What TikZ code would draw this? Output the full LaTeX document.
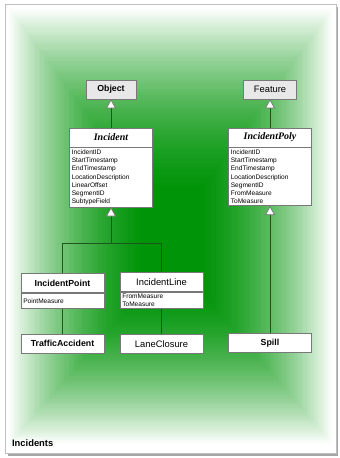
\documentclass[tikz,border=0pt]{standalone}
\usepackage{fontspec}
\setmainfont{Liberation Sans}
\newfontfamily\classfont{Liberation Serif}
\usetikzlibrary{arrows.meta,positioning}
\definecolor{bgg}{RGB}{0,148,8}
\definecolor{lnk}{RGB}{30,85,30}
\definecolor{bxl}{RGB}{120,120,120}
\definecolor{frm}{RGB}{190,190,190}
\definecolor{shd}{RGB}{165,165,165}
\definecolor{gry}{RGB}{232,232,232}
\tikzset{
  classhead/.style={rectangle,draw=bxl,fill=white,line width=0.6pt,
    minimum width=2.49cm,minimum height=0.57cm,inner sep=1pt,
    font=\fontsize{7.5}{9}\selectfont\bfseries},
  abstracthead/.style={classhead,font=\classfont\fontsize{8.5}{10}\selectfont\bfseries\itshape},
  plainhead/.style={classhead,font=\fontsize{8}{9.5}\selectfont},
  classbody/.style={rectangle,draw=bxl,fill=white,line width=0.6pt,
    text width=2.35cm,inner xsep=2pt,inner ysep=1.5pt,align=left,
    font=\fontsize{5.6}{7.07}\selectfont},
  basecls/.style={classhead,fill=gry,minimum width=1.5cm},
  link/.style={draw=lnk,line width=0.6pt},
  gen/.style={link,-{Triangle[length=0.27cm,width=0.3cm,color=bxl,fill=white]}},
}
\begin{document}
\begin{tikzpicture}[x=0.03cm,y=-0.03cm]
\useasboundingbox (0,0) rectangle (339,458);
% --- frame and green backdrop ---
\fill[shd] (8,7) rectangle (338,456);
\fill[white] (5,4) rectangle (336,453);
\foreach \i in {0,...,80}{
  \pgfmathsetmacro\t{\i/80}
  \pgfmathtruncatemacro\p{100*(1-0.6*(1-\t)*(1-\t)-0.4*(1-\t))}
  \pgfmathsetmacro\xa{7+133*\t}
  \pgfmathsetmacro\ya{6+179*\t}
  \pgfmathsetmacro\xb{334-129*\t}
  \pgfmathsetmacro\yb{446-151*\t}
  \fill[bgg!\p!white] (\xa,\ya) rectangle (\xb,\yb);
}
\draw[frm,line width=0.8pt] (5,4) rectangle (336,453);

% --- base classes ---
\node[basecls] (obj) at (111,89.5) {Object};
\node[basecls,font=\fontsize{8}{9.5}\selectfont,minimum width=1.59cm] (feat) at (270,89.5) {Feature};

% --- abstract classes ---
\node[abstracthead] (incH) at (111,137.5) {Incident};
\node[classbody,below=0pt of incH] (incB) {IncidentID\\StartTimestamp\\EndTimestamp\\LocationDescription\\LinearOffset\\SegmentID\\SubtypeField};
\node[abstracthead] (polyH) at (270,137.5) {IncidentPoly};
\node[classbody,below=0pt of polyH] (polyB) {IncidentID\\StartTimestamp\\EndTimestamp\\LocationDescription\\SegmentID\\FromMeasure\\ToMeasure};

% --- subclasses ---
\node[classhead] (ptH) at (62.5,283) {IncidentPoint};
\node[classbody,below=0pt of ptH,minimum height=0.45cm] (ptB) {PointMeasure};
\node[plainhead] (lnH) at (161.5,282) {IncidentLine};
\node[classbody,below=0pt of lnH] (lnB) {FromMeasure\\ToMeasure};

% --- leaves ---
\node[classhead] (traffic) at (62.5,343.5) {TrafficAccident};
\node[plainhead] (lane) at (161.5,344) {LaneClosure};
\node[classhead] (spill) at (270,343) {Spill};

% --- generalisation links ---
\draw[gen] (incH) -- (obj);
\draw[gen] (polyH) -- (feat);
\coordinate (fork) at (111,243);
\draw[gen] (fork) -- (incB);
\draw[link] (ptH) |- (fork);
\draw[link] (lnH) |- (fork);
\draw[link] (ptB) -- (traffic);
\draw[link] (lnB) -- (lane);
\draw[gen] (spill) -- (polyB);

\node[anchor=west,font=\fontsize{8}{9.5}\selectfont\bfseries] (title) at (8,443) {Incidents};
\end{tikzpicture}
\end{document}
